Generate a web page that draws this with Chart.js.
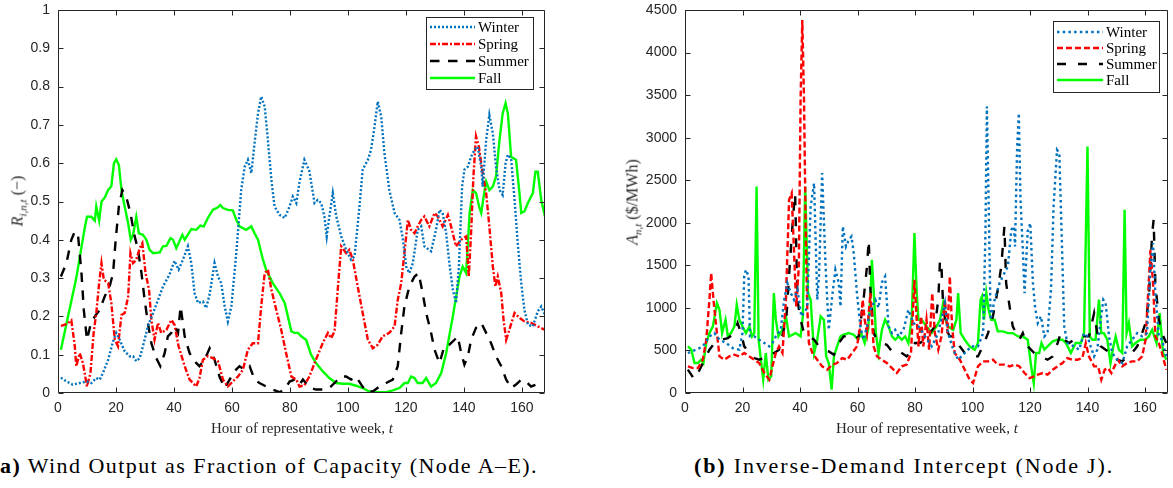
<!DOCTYPE html>
<html><head><meta charset="utf-8">
<script src="https://cdn.jsdelivr.net/npm/chart.js@4.4.1/dist/chart.umd.min.js"></script>
<style>
html,body{margin:0;padding:0;background:#fff;width:1173px;height:488px;overflow:hidden;position:relative;}
canvas{position:absolute;top:0;}
#cA{left:0}
#cB{left:620px}
.serif{font-family:"Liberation Serif","DejaVu Serif",serif;color:#000;position:absolute;white-space:nowrap;line-height:1;}
.xt{font-size:15px;top:421px;transform:translateX(-50%);color:#262626}
.yt{font-size:16px;transform:translate(-50%,-50%) rotate(-90deg);color:#262626;font-weight:normal}
.yt sub{font-size:11px;vertical-align:-4px;font-style:italic;line-height:1}
.cap{font-size:22px;top:455px;}
</style></head>
<body>
<canvas id="cA" width="560" height="440"></canvas>
<canvas id="cB" width="553" height="440"></canvas>
<div class="serif xt" style="left:302px">Hour of representative week, <i>t</i></div>
<div class="serif xt" style="left:927px">Hour of representative week, <i>t</i></div>
<div class="serif yt" style="left:19px;top:201px"><i>R</i><sub>i,n,t</sub>&nbsp;(−)</div>
<div class="serif yt" style="left:634px;top:202px"><i>A</i><sub>n,t</sub>&nbsp;($/MWh)</div>
<div class="serif cap" id="capA" style="left:0px"><b>a)</b> Wind Output as Fraction of Capacity (Node A–E).</div>
<div class="serif cap" id="capB" style="left:694px"><b>(b)</b> Inverse-Demand Intercept (Node J).</div>
<script>
// ---------- data: [hour, value] ----------
const seasons = ["Winter","Spring","Summer","Fall"];
const xTicksHours = [0,20,40,60,80,100,120,140,160];

const winterA = [[1,0.04],[3,0.03],[5,0.022],[7.5,0.026],[10,0.03],[11.5,0.026],[13.2,0.039],[14.4,0.035],[15.5,0.052],[17.3,0.087],[19,0.135],[20.1,0.157],[21.3,0.139],[23,0.109],[24.7,0.096],[25.9,0.096],[27,0.083],[28.2,0.091],[29.3,0.122],[31,0.174],[32.8,0.209],[34.5,0.243],[36.2,0.278],[38.5,0.31],[40.2,0.345],[41.6,0.322],[43.1,0.348],[44.8,0.383],[46,0.339],[47.1,0.261],[48.3,0.235],[50,0.239],[51.1,0.222],[52.3,0.257],[54,0.339],[55.2,0.304],[56.3,0.287],[57.5,0.226],[58.6,0.187],[59.8,0.226],[61.5,0.365],[63.2,0.53],[64.4,0.591],[65.5,0.609],[66.7,0.574],[67.8,0.652],[69,0.73],[70.1,0.774],[71.3,0.748],[72.4,0.661],[73.6,0.557],[74.7,0.487],[76.4,0.465],[78.2,0.457],[79.9,0.487],[81,0.513],[82.2,0.496],[83.3,0.55],[85,0.609],[86.7,0.58],[88.5,0.496],[89.6,0.504],[90.8,0.496],[91.9,0.461],[92.7,0.409],[93.6,0.461],[94.8,0.522],[96,0.461],[97.7,0.409],[99.4,0.374],[101.1,0.348],[102.3,0.357],[104,0.487],[105.1,0.583],[106.9,0.609],[108,0.635],[109.2,0.696],[110.3,0.761],[111.5,0.722],[112.6,0.626],[114.3,0.53],[116.1,0.47],[117.8,0.452],[119,0.40],[120.1,0.33],[121.2,0.313],[122.4,0.339],[124.1,0.426],[125.3,0.435],[126.4,0.383],[128.7,0.37],[130.4,0.426],[131.6,0.478],[132.7,0.47],[133.9,0.417],[135,0.339],[136.2,0.27],[137.3,0.235],[138.3,0.33],[139.4,0.539],[140.2,0.583],[141.4,0.591],[142.5,0.617],[143.7,0.635],[144.8,0.643],[146,0.591],[146.5,0.539],[147.7,0.661],[148.8,0.726],[150,0.678],[151.1,0.591],[152.3,0.53],[153.4,0.517],[154.4,0.60],[155.2,0.622],[156.3,0.613],[157.5,0.504],[158.6,0.391],[159.8,0.287],[160.9,0.217],[162.1,0.178],[163.8,0.174],[165.5,0.213],[166.7,0.226],[168,0.204]];

const springA = [[1,0.175],[3,0.18],[4.6,0.19],[5.8,0.122],[6.3,0.07],[7.5,0.104],[8.6,0.078],[10,0.017],[11.2,0.052],[12.3,0.157],[13.2,0.209],[14.2,0.287],[15,0.339],[15.8,0.296],[17.3,0.287],[18.4,0.235],[19.6,0.139],[20.7,0.122],[21.9,0.204],[23,0.209],[24.2,0.252],[25,0.365],[25.9,0.339],[27,0.348],[28.2,0.378],[29.1,0.391],[30.2,0.313],[31.4,0.27],[32.2,0.191],[33.3,0.139],[34.5,0.183],[35.6,0.157],[37.4,0.165],[39.1,0.191],[40.2,0.178],[41.6,0.122],[43.7,0.07],[45.4,0.035],[47.7,0.017],[48.8,0.039],[50,0.087],[51.7,0.096],[53.4,0.091],[55.2,0.083],[56.9,0.035],[58.6,0.017],[60.3,0.03],[62.1,0.043],[63.8,0.061],[65.5,0.113],[67.2,0.13],[69,0.13],[70.1,0.226],[71.3,0.313],[72.4,0.322],[73.6,0.27],[75.3,0.217],[77,0.165],[78.7,0.104],[80.5,0.043],[82.2,0.035],[83.3,0.017],[85,0.02],[86.7,0.043],[89,0.087],[91.3,0.13],[93.1,0.157],[94.2,0.143],[95.4,0.161],[96.5,0.27],[97.7,0.383],[99.4,0.365],[100.5,0.374],[101.7,0.348],[103.4,0.278],[105.1,0.209],[106.9,0.139],[108.6,0.117],[110.3,0.126],[112,0.148],[114.3,0.157],[116.1,0.174],[117.2,0.243],[118.4,0.287],[119.5,0.365],[120.7,0.452],[121.8,0.426],[123,0.417],[124.1,0.435],[125.3,0.452],[126.4,0.461],[128.1,0.435],[129.9,0.47],[131,0.461],[132.7,0.435],[134.5,0.465],[135.6,0.435],[137.3,0.383],[139.1,0.40],[140.8,0.409],[141.7,0.304],[142.5,0.417],[143.3,0.565],[144.2,0.67],[145.2,0.643],[146.5,0.574],[147.7,0.522],[148.8,0.435],[150,0.33],[150.9,0.278],[151.7,0.304],[152.9,0.261],[153.7,0.191],[154.6,0.139],[155.7,0.165],[157.5,0.209],[159.2,0.196],[160.9,0.187],[163.2,0.183],[165.5,0.174],[168,0.165]];

const summerA = [[1,0.304],[2.9,0.339],[4.6,0.40],[5.8,0.422],[6.9,0.413],[8.1,0.313],[8.9,0.217],[10,0.139],[11.2,0.178],[12.7,0.20],[14.4,0.217],[16.1,0.252],[17.8,0.278],[19,0.313],[19.9,0.40],[21,0.487],[22.2,0.53],[23.5,0.513],[25,0.47],[26.2,0.417],[27.6,0.374],[28.8,0.313],[29.9,0.243],[31,0.183],[32.2,0.13],[33.9,0.091],[35.3,0.07],[36.8,0.104],[37.9,0.148],[39.1,0.157],[40.2,0.174],[41.4,0.157],[42.3,0.226],[43.7,0.148],[45.4,0.104],[47.1,0.083],[48.8,0.07],[50.6,0.087],[52.3,0.117],[54,0.087],[55.7,0.043],[57.5,0.013],[59.2,0.035],[60.9,0.057],[62.6,0.07],[64.4,0.061],[66.1,0.07],[67.8,0.035],[69.5,0.026],[71.8,0.017],[74.1,0.009],[76.4,0.002],[78.2,0.009],[79.9,0.03],[81.6,0.035],[83.3,0.022],[84.5,0.035],[86.7,0.015],[89,0.009],[91.3,0.009],[93.6,0.013],[95.9,0.03],[97.7,0.043],[99.4,0.043],[101.1,0.035],[102.8,0.043],[104.6,0.022],[106.3,0.004],[108.6,0.004],[110.9,0.017],[113.2,0.026],[115.5,0.035],[117.2,0.07],[118.4,0.157],[119.5,0.226],[121.2,0.278],[123,0.304],[124.4,0.313],[125.8,0.261],[127,0.209],[128.7,0.157],[129.9,0.113],[131.6,0.078],[133.3,0.122],[135,0.126],[136.8,0.139],[137.9,0.148],[139.1,0.104],[140.2,0.074],[141.4,0.096],[142.5,0.139],[144.2,0.17],[146,0.183],[147.7,0.157],[149.4,0.13],[151.1,0.096],[152.9,0.07],[154.6,0.035],[156.3,0.013],[158,0.022],[159.8,0.035],[161.5,0.03],[163.2,0.017],[165,0.022],[166.1,0.026]];

const fallA = [[1,0.113],[6.3,0.30],[9.2,0.43],[10,0.46],[11.5,0.46],[12.7,0.45],[13.2,0.487],[14.2,0.45],[15,0.50],[16.1,0.51],[17.3,0.53],[18.4,0.54],[19.3,0.60],[20.1,0.61],[21,0.595],[21.9,0.53],[23,0.487],[24.2,0.443],[25.1,0.40],[25.9,0.413],[27,0.46],[27.9,0.417],[29.3,0.413],[30.5,0.40],[31.6,0.374],[32.8,0.365],[35.1,0.367],[36.2,0.383],[37.4,0.384],[38.8,0.404],[39.7,0.40],[40.8,0.378],[42.9,0.413],[43.7,0.40],[46,0.428],[47.7,0.426],[49.1,0.437],[50.3,0.435],[51.7,0.457],[53.4,0.478],[55.2,0.485],[56,0.491],[56.9,0.483],[58.6,0.478],[60.3,0.477],[61.5,0.452],[62.6,0.435],[64.9,0.426],[66.7,0.435],[67.8,0.417],[69,0.40],[70.7,0.348],[71.8,0.322],[74.1,0.287],[76.4,0.261],[78.2,0.235],[79.3,0.20],[80.5,0.161],[81.6,0.157],[82.8,0.157],[83.9,0.148],[85.6,0.139],[87.3,0.10],[89,0.078],[91.3,0.057],[93.6,0.039],[95.9,0.026],[98.2,0.024],[100.5,0.024],[102.8,0.019],[105.1,0.013],[107.4,0.004],[109.7,0.002],[113.2,0.002],[115.5,0.007],[117.8,0.013],[119.5,0.026],[120.7,0.026],[121.8,0.043],[123,0.039],[124.1,0.026],[125.8,0.026],[127,0.039],[128.7,0.017],[130.4,0.026],[132.2,0.052],[133.9,0.104],[136.2,0.20],[138.5,0.304],[139.6,0.33],[140.8,0.313],[142,0.47],[143.1,0.53],[144.2,0.522],[145.4,0.483],[146,0.47],[147.1,0.526],[147.7,0.552],[148.8,0.53],[150,0.539],[151.1,0.565],[152.3,0.66],[153.4,0.73],[154.4,0.757],[155.2,0.73],[156.3,0.617],[158,0.609],[159.2,0.522],[159.8,0.47],[160.9,0.474],[162.1,0.496],[163.8,0.522],[164.7,0.578],[165.5,0.578],[166.7,0.504],[168,0.461]];

const winterB = [[1,470],[3.9,509],[6.2,548],[8.5,665],[10.2,704],[12,626],[14.3,587],[16.6,528],[18.9,509],[20,704],[20.6,1370],[21.2,1448],[22.1,1370],[22.6,665],[24.1,665],[25.8,626],[27.6,587],[29.3,548],[30.4,587],[31.6,665],[33.3,743],[34.5,1096],[35.6,1291],[36.8,1174],[37.9,1096],[39.1,1213],[40.5,900],[42.5,1000],[43.7,2191],[44.9,2465],[46,1096],[46.6,1370],[47.7,2583],[48.9,1487],[50,743],[51.2,1135],[52.3,1448],[53.5,1291],[54.1,1017],[54.9,1957],[56,1722],[57,1800],[57.9,1839],[58.7,1643],[59.8,1174],[61,783],[62.1,626],[63.3,783],[64.5,978],[66.2,1096],[67.3,1000],[68.5,1300],[69.6,1370],[70.8,783],[72,704],[73.1,743],[74.3,665],[76,743],[77.7,978],[79.4,822],[81.2,783],[83.5,665],[85.8,548],[88.1,704],[90.4,1057],[91.5,704],[93.3,509],[95,391],[97.3,470],[99.6,548],[101.9,548],[103.7,704],[104.5,1878],[105,3365],[105.6,2270],[106.3,861],[107.7,1096],[109.4,1291],[111.1,1409],[112.3,1487],[113.5,1917],[114.4,1957],[114.8,1722],[115.5,2857],[116.1,3287],[116.7,2270],[117.5,1683],[118.1,1174],[119.2,1900],[120.1,1996],[121,1300],[121.8,1000],[122.7,822],[123.8,900],[125,665],[126.1,704],[127.3,1213],[128.2,2191],[129.4,2857],[130.2,2817],[131,1878],[131.9,783],[133,587],[135.3,548],[137.1,509],[138.8,704],[140,665],[141.1,548],[142.3,430],[143.4,509],[144.6,861],[145.5,1096],[146.3,1057],[147.5,665],[148.6,470],[150.3,391],[152.1,352],[153.8,548],[155.5,626],[157.3,704],[159,665],[160.7,704],[161.9,1487],[162.8,1761],[163.6,1174],[164.8,665],[165.9,626],[167.4,430]];

const springB = [[1,313],[2.8,293],[4.5,293],[6.2,391],[7.4,626],[8.5,1096],[9.1,1409],[9.9,1096],[11.1,704],[12,430],[13.7,391],[15.4,430],[17.2,450],[18.9,430],[20.6,470],[22.4,430],[24.1,391],[25.8,352],[27.6,235],[29.3,157],[30.4,313],[31.6,470],[32.7,548],[33.9,470],[35.1,1096],[36.2,2270],[37.1,2348],[37.9,1683],[38.7,1017],[39.6,1487],[40.2,3443],[40.8,4383],[41.4,3443],[42,1878],[42.5,1017],[43.1,587],[44.3,470],[46,391],[47.7,313],[49.5,274],[51.2,333],[52.9,352],[54.7,411],[56.4,391],[58.1,470],[59.8,548],[61,783],[61.8,1096],[62.5,861],[63.3,704],[64.5,1174],[65.6,548],[66.8,430],[68.5,391],[70.2,352],[72,293],[73.7,235],[75.4,313],[77.1,333],[78.6,470],[79.8,1330],[80.6,861],[81.2,548],[82.1,900],[82.9,548],[84,861],[84.9,509],[86,1174],[86.9,704],[88.1,509],[89.2,665],[90.4,1096],[91.3,704],[92.1,1370],[92.9,783],[93.8,470],[95.6,391],[97.3,274],[99,157],[100.2,117],[101.9,313],[103.6,372],[105.4,372],[107.1,391],[108.8,333],[111.1,333],[112.9,313],[114.6,333],[116.3,313],[118.1,235],[119.8,176],[121.5,196],[122.7,215],[124.4,235],[126.1,215],[127.9,274],[129.6,313],[131.3,352],[133,411],[134.8,391],[136.5,391],[138.2,411],[139.4,587],[140.5,430],[142.3,313],[143.7,313],[144.8,157],[146,274],[147.1,293],[148.3,235],[149.4,313],[150.6,391],[152.1,313],[153.8,352],[155.5,372],[157.3,372],[159,430],[160.2,626],[161.3,1291],[161.9,1683],[162.8,1291],[163.6,665],[164.8,587],[165.9,470],[167.4,274]];

const summerB = [[1,274],[3.3,157],[5.1,274],[6.8,391],[8.5,509],[10.3,587],[12.6,626],[14.9,645],[17.2,704],[18.3,822],[19.5,704],[20.6,548],[22.4,470],[24.1,411],[25.8,391],[27.6,411],[29.3,430],[31,470],[32.7,509],[34.1,704],[35.3,900],[36.4,1487],[37.6,2074],[38.3,2348],[39.1,1096],[40.2,861],[41.4,704],[43.1,665],[44.9,626],[46.6,548],[48.3,509],[50,489],[51.8,450],[53.5,587],[55.2,665],[57,665],[58.7,626],[60.4,665],[62.1,1096],[63.3,1487],[63.9,1800],[64.5,1213],[65.6,704],[66.8,626],[68.5,587],[70.2,567],[72,489],[73.7,509],[75.4,470],[77.1,430],[78.9,509],[80,587],[81.7,587],[83.5,626],[85.2,704],[86.9,783],[88.1,1096],[88.7,1565],[89.2,1487],[89.8,1017],[91,743],[92.1,665],[93.8,665],[95.6,548],[97.3,470],[99.6,430],[101.9,430],[103.6,548],[105.4,704],[107.1,900],[108.8,1213],[110,1487],[111.1,1957],[111.7,1291],[112.9,1017],[114,783],[115.2,704],[116.3,626],[117.5,704],[119.2,548],[121.5,470],[123.8,430],[126.1,391],[127.9,430],[129.6,587],[130.7,704],[131.9,626],[133.6,587],[135.3,626],[137.1,665],[138.8,665],[140.5,665],[142.3,939],[143.4,704],[144.6,548],[146.3,509],[148,470],[150.3,391],[152.1,372],[153.8,430],[155.5,470],[157.3,548],[159,704],[160.2,822],[161.3,1096],[162.5,1878],[163,2035],[163.6,1291],[164.8,861],[165.9,704],[167.4,587]];

const fallB = [[1,548],[2.2,509],[3.3,352],[4.5,352],[5.6,391],[6.4,352],[7.4,587],[8.5,704],[9.7,783],[11.1,1057],[12,978],[12.9,704],[14.1,861],[14.9,665],[16,704],[17.2,783],[18,1037],[18.9,861],[20,783],[21.2,704],[22.4,783],[23.3,665],[24.1,704],[24.9,2426],[25.6,626],[26.4,391],[27.2,157],[28.1,470],[29,157],[30,196],[30.9,1174],[31.6,861],[32.5,665],[33.9,743],[35.1,900],[36.2,665],[38.5,704],[40.2,665],[41,900],[41.8,2426],[42.8,1174],[43.7,1096],[44.9,470],[46,626],[47.2,900],[48.3,861],[49.1,430],[50,352],[51,39],[51.8,430],[52.9,548],[54.1,665],[55.2,685],[57,704],[58.7,685],[60.2,626],[61.3,704],[62.5,587],[63.7,743],[64.5,1135],[65,1565],[65.6,1213],[66.4,704],[67.3,470],[68.5,743],[69.6,861],[70.8,783],[72,665],[73.1,626],[74.3,665],[75.4,626],[76.6,665],[77.7,587],[78.9,900],[79.8,1878],[80.6,1174],[81.2,861],[82.3,861],[84,783],[85.8,704],[87.5,783],[88.7,861],[89.8,1057],[90.6,861],[91.5,783],[93.3,743],[94.4,861],[95,1174],[95.9,704],[97.3,626],[99,548],[100.8,509],[101.9,587],[102.8,1096],[103.3,1135],[104,861],[104.8,1174],[105.6,978],[106.5,861],[107.7,861],[108.8,724],[110.6,724],[112.3,704],[114,704],[115.8,665],[117.5,665],[119.2,626],[120.4,313],[121.3,117],[122.1,470],[123.2,470],[124,587],[125,509],[126.1,548],[127.9,606],[129.6,626],[131.3,626],[132.5,587],[134.2,470],[135.9,587],[137.7,587],[138.8,704],[140,2896],[140.8,665],[141.7,626],[142.8,626],[144,1096],[144.8,704],[145.7,704],[146.9,626],[148,352],[149,548],[149.8,665],[150.9,509],[152.1,470],[152.9,2152],[153.6,704],[154.4,822],[155.5,548],[156.7,587],[158.4,626],[160.1,626],[161.3,665],[162.5,743],[164,587],[165.1,939],[166.3,470],[167.4,391]];

// ---------- styles ----------
const colors = {Winter:"#0072BD", Spring:"#FF0000", Summer:"#000000", Fall:"#00FF00"};
const dashA = {Winter:[2,2], Spring:[6,2,2,2], Summer:[9.5,8.5], Fall:[]};
const dashB = {Winter:[2.5,3.2], Spring:[6,3], Summer:[9,12], Fall:[]};

function pts(arr){ return arr.map(p => ({x:p[0], y:p[1]})); }

function makeDatasets(list, dash){
  return list.map((arr,i) => {
    const s = seasons[i];
    return {label:s, data:pts(arr), borderColor:colors[s], backgroundColor:colors[s],
      borderWidth:2.4, borderDash:dash[s], pointRadius:0, tension:0, fill:false, borderCapStyle:'butt'};
  });
}

const framePlugin = {
  id:'frame',
  afterDatasetsDraw(chart){
    const {ctx, chartArea:a, scales:{x,y}} = chart;
    ctx.save();
    ctx.strokeStyle = '#262626'; ctx.lineWidth = 1;
    const L = Math.round(a.left)+0.5, R = Math.round(a.right)-0.5, T = Math.round(a.top)+0.5, B = Math.round(a.bottom)-0.5;
    ctx.beginPath();
    ctx.rect(L, T, R-L, B-T);
    const tl = 5;
    x.ticks.forEach(t => {
      const px = Math.round(x.getPixelForValue(t.value))+0.5;
      ctx.moveTo(px,B); ctx.lineTo(px,B-tl);
      ctx.moveTo(px,T); ctx.lineTo(px,T+tl);
    });
    y.ticks.forEach(t => {
      const py = Math.round(y.getPixelForValue(t.value))+0.5;
      ctx.moveTo(L,py); ctx.lineTo(L+tl,py);
      ctx.moveTo(R,py); ctx.lineTo(R-tl,py);
    });
    ctx.stroke();
    ctx.restore();
  }
};

const legendPlugin = {
  id:'boxLegend',
  afterDraw(chart, args, opts){
    const {ctx} = chart;
    const b = opts.box;
    ctx.save();
    ctx.fillStyle = '#fff';
    ctx.fillRect(b.x, b.y, b.w, b.h);
    ctx.strokeStyle = '#262626'; ctx.lineWidth = 1;
    ctx.strokeRect(b.x+0.5, b.y+0.5, b.w, b.h);
    chart.data.datasets.forEach((ds,i) => {
      const yy = b.rows[i];
      ctx.beginPath();
      ctx.strokeStyle = ds.borderColor; ctx.lineWidth = ds.borderWidth;
      ctx.setLineDash(ds.borderDash || []);
      ctx.moveTo(b.lx0, yy); ctx.lineTo(b.lx1, yy);
      ctx.stroke();
      ctx.setLineDash([]);
      ctx.fillStyle = '#000';
      ctx.font = '15px "Liberation Serif", serif';
      ctx.textBaseline = 'middle';
      ctx.fillText(ds.label, b.tx, yy+1);
    });
    ctx.restore();
  }
};

function makeChart(id, datasets, yCfg, yWidth, padRight, box){
  return new Chart(document.getElementById(id), {
    type:'line',
    data:{datasets},
    options:{
      responsive:false, animation:false, devicePixelRatio:1,
      layout:{padding:{top:10, right:padRight, left:0, bottom:0}},
      plugins:{legend:{display:false}, tooltip:{enabled:false}, boxLegend:{box}},
      scales:{
        x:{type:'linear', min:0, max:168,
          grid:{display:false, drawTicks:false}, border:{display:false},
          afterBuildTicks: s => { s.ticks = xTicksHours.map(v => ({value:v})); },
          afterFit: s => { s.height = 47; s.paddingLeft = 0; s.paddingRight = 0; },
          ticks:{padding:7, maxRotation:0, autoSkip:false, color:'#262626', font:{family:'"Liberation Sans", Arial, sans-serif', size:14}}
        },
        y:{type:'linear', min:yCfg.min, max:yCfg.max,
          grid:{display:false, drawTicks:false}, border:{display:false},
          afterBuildTicks: s => { s.ticks = yCfg.ticks.map(v => ({value:v})); },
          afterFit: s => { s.width = yWidth; s.paddingTop = 0; s.paddingBottom = 0; },
          ticks:{padding:8, autoSkip:false, color:'#262626', font:{family:'"Liberation Sans", Arial, sans-serif', size:14},
            callback: v => yCfg.fmt(v)}
        }
      }
    },
    plugins:[framePlugin, legendPlugin]
  });
}

const yTicksA = [0,0.1,0.2,0.3,0.4,0.5,0.6,0.7,0.8,0.9,1];
const yTicksB = [0,500,1000,1500,2000,2500,3000,3500,4000,4500];

makeChart('cA', makeDatasets([winterA, springA, summerA, fallA], dashA),
  {min:0, max:1, ticks:yTicksA, fmt: v => String(Math.round(v*10)/10)}, 58, 15,
  {x:426, y:17, w:107, h:72, rows:[27,44,61,78], lx0:430, lx1:475, tx:478});

makeChart('cB', makeDatasets([winterB, springB, summerB, fallB], dashB),
  {min:0, max:4500, ticks:yTicksB, fmt: v => String(v)}, 65, 5,
  {x:433, y:21, w:106, h:71, rows:[32,48,64,80], lx0:437, lx1:483, tx:486});

function fit(id, target){
  const el = document.getElementById(id);
  const w = el.getBoundingClientRect().width;
  const n = el.textContent.length;
  el.style.letterSpacing = ((target - w)/n) + 'px';
}
fit('capA', 538);
fit('capB', 420);
</script>
</body></html>
